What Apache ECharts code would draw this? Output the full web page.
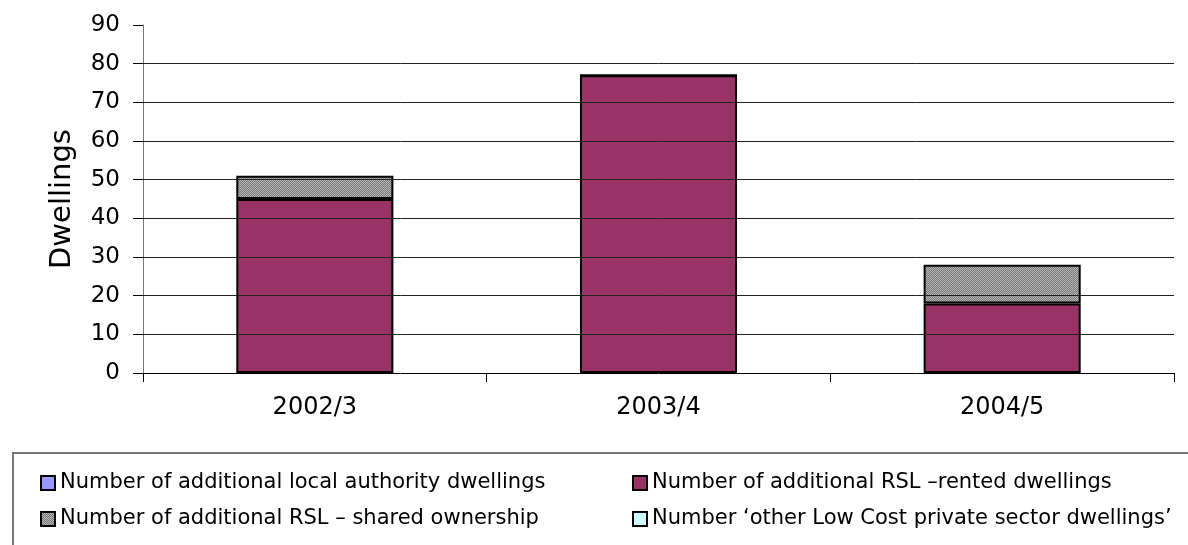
<!DOCTYPE html>
<html>
<head>
<meta charset="utf-8">
<script src="https://cdn.jsdelivr.net/npm/echarts@6/dist/echarts.min.js"></script>
<style>
html, body { margin: 0; padding: 0; background: #fff; }
#chart { width: 1188px; height: 545px; }
</style>
</head>
<body>
<div id="chart"></div>
<script>
var categories = ['2002/3', '2003/4', '2004/5'];
var localAuthority = [0, 0, 0];
var rslRented = [45, 77, 18];
var rslShared = [6, 0, 10];
var otherLowCost = [0, 0, 0];
var gridTicks = [10, 20, 30, 40, 50, 60, 70, 80];

var names = [
	'Number of additional local authority dwellings',
	'Number of additional RSL \u2013rented dwellings',
	'Number of additional RSL \u2013 shared ownership',
	'Number \u2018other Low Cost private sector dwellings\u2019'
];

// fine grey hatch like the old excel fill
function hatch() {
	var c = document.createElement('canvas');
	c.width = 4; c.height = 4;
	var ctx = c.getContext('2d');
	ctx.fillStyle = '#b4b4b4';
	ctx.fillRect(0, 0, 4, 4);
	ctx.fillStyle = '#7a7a7a';
	for (var i = 0; i < 4; i++) {
		ctx.fillRect(i, (i + 1) % 4, 1, 1);
		ctx.fillRect(i, (i + 3) % 4, 1, 1);
	}
	return { image: c, repeat: 'repeat' };
}

var font = 'DejaVu Sans';
var border = { borderColor: '#000', borderWidth: 2 };

function bar(name, data, color, bw) {
	return {
		name: name,
		type: 'bar',
		stack: 'all',
		barWidth: '45.7%',
		data: data,
		itemStyle: { color: color, borderColor: '#000', borderWidth: bw }
	};
}

// the all-zero series get no outline so they don't thicken the bar edges
var series = [
	bar(names[0], localAuthority, '#9999ff', 0),
	bar(names[1], rslRented, '#993366', 2),
	bar(names[2], rslShared, hatch(), 2),
	bar(names[3], otherLowCost, '#ccffff', 0)
];
series[0].markLine = {
	silent: true,
	symbol: 'none',
	label: { show: false },
	lineStyle: { color: '#222', width: 1, type: 'solid' },
	data: gridTicks.map(function (v) { return { yAxis: v }; })
};
series[0].z = 1;

var legendBase = {
	orient: 'vertical',
	top: 466,
	itemWidth: 14,
	itemHeight: 14,
	itemGap: 12,
	icon: 'rect',
	itemStyle: border,
	textStyle: { fontFamily: font, fontSize: 21, color: '#000', lineHeight: 24 }
};

var option = {
	animation: false,
	textStyle: { fontFamily: font },
	grid: { left: 143, right: 14, top: 25, bottom: 172 },
	legend: [
		Object.assign({}, legendBase, { left: 35, data: [names[0], names[2]] }),
		Object.assign({}, legendBase, { left: 627, data: [names[1], names[3]] })
	],
	graphic: [{
		type: 'rect',
		shape: { x: 13, y: 453, width: 1200, height: 200 },
		style: { fill: 'none', stroke: '#777', lineWidth: 2 },
		silent: true
	}],
	xAxis: {
		type: 'category',
		data: categories,
		axisLine: { lineStyle: { color: '#000', width: 1 } },
		axisTick: { show: true, length: 9, lineStyle: { color: '#000' } },
		axisLabel: { fontSize: 24, color: '#000', margin: 23, fontFamily: font }
	},
	yAxis: {
		type: 'value',
		min: 0,
		max: 90,
		interval: 10,
		name: 'Dwellings',
		nameLocation: 'middle',
		nameGap: 66,
		nameTextStyle: { fontSize: 29, color: '#000', fontFamily: font },
		axisLine: { show: true, lineStyle: { color: '#777', width: 1 } },
		axisTick: { show: true, length: 10, lineStyle: { color: '#000' } },
		axisLabel: { fontSize: 23, color: '#000', margin: 23, fontFamily: font },
		splitLine: { show: false }
	},
	series: series
};

var myChart = echarts.init(document.getElementById('chart'));
myChart.setOption(option);
</script>
</body>
</html>
